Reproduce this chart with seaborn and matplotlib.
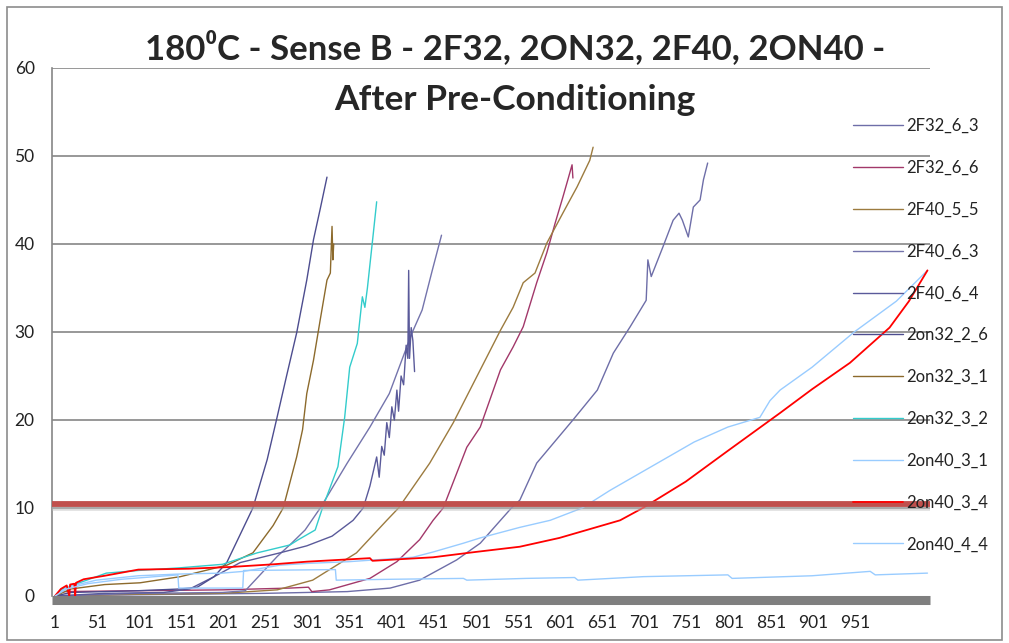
import matplotlib
matplotlib.use("Agg")
import matplotlib.pyplot as plt
import seaborn as sns
import pandas as pd
from matplotlib.patches import Rectangle

# series: sample index vs value
f32_6_3_x = [1, 60, 150, 250, 348, 399, 434, 478, 506, 530, 543, 553, 573, 616, 645, 664, 684, 703, 705, 709, 723, 735, 742, 746, 753, 759, 767, 771, 776]
f32_6_3_y = [0, 0.1, 0.2, 0.3, 0.5, 0.9, 1.8, 4.1, 6.0, 8.6, 10, 10.9, 15.1, 20, 23.4, 27.6, 30.6, 33.6, 38.2, 36.3, 39.7, 42.7, 43.5, 42.7, 40.8, 44.2, 45, 47.3, 49.2]

f32_6_6_x = [1, 10, 100, 200, 280, 302, 306, 327, 375, 407, 434, 450, 462, 490, 506, 530, 545, 557, 573, 585, 595, 604, 610, 615, 616]
f32_6_6_y = [0, 0.5, 0.6, 0.7, 0.9, 1.0, 0.5, 0.7, 2.0, 3.9, 6.4, 8.6, 10, 16.9, 19.2, 25.7, 28.3, 30.6, 35.6, 39, 42.4, 45.3, 47.3, 49, 47.5]

f40_5_5_x = [1, 100, 200, 265, 307, 359, 395, 409, 446, 474, 506, 530, 545, 557, 571, 585, 604, 621, 636, 640]
f40_5_5_y = [0, 0.2, 0.3, 0.7, 1.8, 4.9, 8.6, 10, 15.1, 19.7, 25.7, 30.2, 32.8, 35.6, 36.7, 40.1, 43.5, 46.5, 49.5, 51]

f40_6_3_x = [1, 100, 200, 227, 265, 282, 298, 316, 348, 375, 398, 425, 437, 449, 460]
f40_6_3_y = [0, 0.3, 0.4, 0.6, 4.5, 6.0, 7.5, 10, 15.1, 19.2, 23, 29.9, 32.5, 37, 41]

f40_6_4_x = [1, 60, 130, 161, 190, 221, 268, 300, 330, 355, 367, 375, 383, 386, 389, 392, 395, 398, 401, 404, 407, 409, 412, 415, 418, 420, 421, 422, 424, 426, 428]
f40_6_4_y = [0, 0.3, 0.4, 0.8, 2.2, 3.8, 4.9, 5.7, 6.8, 8.6, 10, 12.5, 15.8, 13.5, 17, 16, 19.7, 18, 21.5, 20, 23.4, 21, 25, 24, 28.5, 27, 37, 27, 30.5, 29, 25.5]

on32_2_6_x = [1, 20, 100, 150, 170, 190, 205, 229, 236, 253, 264, 276, 288, 300, 308, 316, 324]
on32_2_6_y = [0, 0.4, 0.6, 0.8, 1.0, 2.2, 3.8, 8.6, 10, 15.5, 20, 25, 29.9, 35.9, 40.5, 44, 47.6]

on32_3_1_x = [1, 20, 60, 102, 150, 205, 236, 260, 272, 288, 295, 300, 308, 316, 324, 328, 330, 331, 332]
on32_3_1_y = [0, 0.8, 1.3, 1.5, 2.2, 3.5, 4.9, 8.0, 10, 15.8, 18.9, 23, 26.8, 31.4, 35.9, 36.7, 42, 38.2, 40]

on32_3_2_x = [1, 10, 30, 62, 100, 149, 200, 241, 280, 290, 310, 319, 337, 345, 351, 360, 366, 369, 372, 379, 383]
on32_3_2_y = [0, 0.8, 1.5, 2.6, 2.9, 3.2, 3.6, 4.9, 5.8, 6.4, 7.5, 10.1, 14.7, 20.3, 26, 28.7, 34, 32.8, 35, 41.2, 44.8]

on40_3_1_x = [1, 15, 50, 100, 150, 200, 225, 268, 300, 350, 426, 450, 486, 506, 553, 589, 627, 660, 700, 760, 800, 838, 850, 862, 900, 950, 1000, 1037]
on40_3_1_y = [0, 1.0, 1.8, 2.3, 2.5, 2.6, 2.8, 3.5, 3.7, 3.9, 4.4, 5.0, 6.0, 6.6, 7.8, 8.6, 10, 12, 14.2, 17.5, 19.2, 20.3, 22.2, 23.4, 26, 30, 33.5, 37]

on40_3_4_x = [1, 8, 15, 18, 19, 24, 25, 26, 35, 60, 100, 160, 210, 260, 300, 375, 378, 450, 500, 553, 600, 672, 699, 750, 800, 862, 900, 945, 992, 1015, 1037]
on40_3_4_y = [0, 0.8, 1.2, 0.0, 1.3, 1.4, 0.0, 1.5, 1.9, 2.3, 3.0, 3.1, 3.3, 3.6, 3.9, 4.3, 4.0, 4.4, 5.0, 5.6, 6.6, 8.6, 10, 13, 16.5, 20.8, 23.5, 26.5, 30.5, 33.5, 37]

on40_4_4_x = [1, 15, 40, 80, 120, 147, 148, 224, 225, 334, 335, 400, 486, 490, 560, 618, 622, 700, 800, 805, 900, 969, 975, 1037]
on40_4_4_y = [0, 0.8, 1.4, 1.9, 2.2, 2.4, 0.9, 0.9, 2.9, 3.0, 1.8, 1.9, 2.0, 1.8, 2.0, 2.1, 1.8, 2.2, 2.4, 2.0, 2.3, 2.8, 2.4, 2.6]

labels = ['2F32_6_3', '2F32_6_6', '2F40_5_5', '2F40_6_3', '2F40_6_4', '2on32_2_6',
          '2on32_3_1', '2on32_3_2', '2on40_3_1', '2on40_3_4', '2on40_4_4']
colors = ['#6E6EA8', '#A2386A', '#9C7B3F', '#7474AC', '#5A5A9A', '#4D4D8F',
          '#8C6A2C', '#33CCCC', '#99CCFF', '#FF0000', '#99CCFF']
xs = [f32_6_3_x, f32_6_6_x, f40_5_5_x, f40_6_3_x, f40_6_4_x, on32_2_6_x,
      on32_3_1_x, on32_3_2_x, on40_3_1_x, on40_3_4_x, on40_4_4_x]
ys = [f32_6_3_y, f32_6_6_y, f40_5_5_y, f40_6_3_y, f40_6_4_y, on32_2_6_y,
      on32_3_1_y, on32_3_2_y, on40_3_1_y, on40_3_4_y, on40_4_4_y]

threshold = 10.4
x_ticks = list(range(1, 952, 50))
y_ticks = [0, 10, 20, 30, 40, 50, 60]

sns.set_style('white')
plt.rcParams['font.family'] = ['Lato', 'DejaVu Sans']

fig = plt.figure(figsize=(10.09, 6.43), dpi=100)
ax = fig.add_axes([52 / 1009, 1 - 596 / 643, 878 / 1009, 528 / 643])

grid_c = '#868686'
for v in y_ticks[1:]:
    ax.axhline(v, color=grid_c, lw=1.2, zorder=1)

for lab, col, x, y in zip(labels, colors, xs, ys):
    df = pd.DataFrame({'idx': x, 'val': y})
    lw = 1.3 if lab == '2on40_3_4' else 1.0
    sns.lineplot(data=df, x='idx', y='val', ax=ax, color=col, lw=lw,
                 label=lab, sort=False, estimator=None, zorder=3)

# threshold band with a soft shadow
ax.axhline(threshold - 0.35, color='#bbbbbb', lw=4, alpha=0.5, zorder=4)
ax.axhline(threshold, color='#C0504D', lw=4.2, zorder=5)

ax.set_xlim(-2.5, 1040)
ax.set_ylim(0, 60)
ax.set_xticks(x_ticks)
ax.set_xticklabels([str(t) for t in x_ticks])
ax.set_yticks(y_ticks)
ax.set_xlabel('')
ax.set_ylabel('')

for s in ['top', 'right']:
    ax.spines[s].set_visible(False)
ax.spines['left'].set_color(grid_c)
ax.spines['left'].set_linewidth(1.2)
ax.spines['bottom'].set_color('#7F7F7F')
ax.spines['bottom'].set_linewidth(6.5)
ax.spines['bottom'].set_position(('outward', 3))
ax.spines['bottom'].set_capstyle('butt')

ax.tick_params(axis='y', direction='out', length=4.5, width=1.1, color=grid_c,
               labelsize=12.5, pad=8, labelcolor='#222222')
ax.tick_params(axis='x', length=0, labelsize=12.5, pad=11, labelcolor='#222222')

handles, labs = ax.get_legend_handles_labels()
leg = ax.legend(handles, labs, loc='upper left', bbox_to_anchor=(853 / 1009, 1 - 118 / 643),
                bbox_transform=fig.transFigure, frameon=False, fontsize=12,
                handlelength=3.0, handletextpad=0.2, labelspacing=1.55, borderpad=0,
                borderaxespad=0)
for t in leg.get_texts():
    t.set_color('#222222')

fig.text(515 / 1009, 1 - 48 / 643, '180\u2070C - Sense B - 2F32, 2ON32, 2F40, 2ON40 -',
         ha='center', va='center', fontsize=25, fontweight='bold')
fig.text(515 / 1009, 1 - 100 / 643, 'After Pre-Conditioning',
         ha='center', va='center', fontsize=25.5, fontweight='bold')

fig.patches.append(Rectangle((7 / 1009, 3 / 643), 995 / 1009, 633 / 643,
                             transform=fig.transFigure, fill=False,
                             edgecolor='#8c8c8c', lw=1.2))

fig.savefig('out.png', dpi=100)
